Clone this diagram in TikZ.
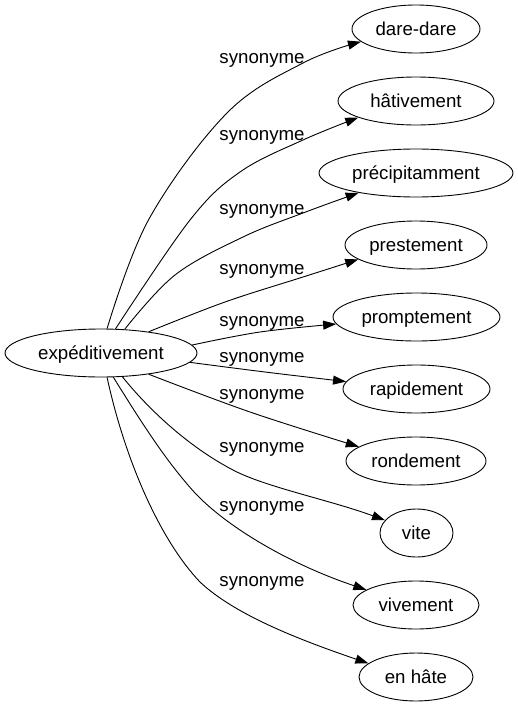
\documentclass[tikz,border=0pt]{standalone}
\usepackage{fontspec}
\setmainfont{Liberation Sans}
\usetikzlibrary{shapes.geometric,arrows.meta}
\tikzset{
  word/.style={ellipse, draw=black, line width=0.9pt, minimum height=48pt, inner sep=0pt,
    text height=13.5pt, text depth=1.5pt, font=\fontsize{18.67}{22}\selectfont},
  rel/.style={anchor=base, inner sep=0pt, font=\fontsize{18.67}{22}\selectfont},
  edge/.style={draw=black, line width=0.9pt, -{Triangle[length=13pt,width=9pt]}},
}
\begin{document}
\begin{tikzpicture}[x=1pt,y=-1pt]
\useasboundingbox (0,0) rectangle (518,707);
\node[word, minimum width=192pt] (e) at (101,353) {expéditivement};
\node[word, minimum width=128pt] (t1) at (416,29) {dare-dare};
\node[word, minimum width=156pt] (t2) at (416,101) {hâtivement};
\node[word, minimum width=194pt] (t3) at (416,173) {précipitamment};
\node[word, minimum width=142pt] (t4) at (416,245) {prestement};
\node[word, minimum width=167pt] (t5) at (416.5,317) {promptement};
\node[word, minimum width=147pt] (t6) at (416.5,389) {rapidement};
\node[word, minimum width=140pt] (t7) at (416,461) {rondement};
\node[word, minimum width=73pt] (t8) at (416.5,533) {vite};
\node[word, minimum width=126pt] (t9) at (416,605) {vivement};
\node[word, minimum width=114pt] (t10) at (416,677) {en hâte};

\node[rel] (l1) at (262,63) {synonyme};
\node[rel] (l2) at (262,140) {synonyme};
\node[rel] (l3) at (262,214) {synonyme};
\node[rel] (l4) at (262,274) {synonyme};
\node[rel] (l5) at (262,326) {synonyme};
\node[rel] (l6) at (262,362) {synonyme};
\node[rel] (l7) at (262,399) {synonyme};
\node[rel] (l8) at (262,452) {synonyme};
\node[rel] (l9) at (262,511) {synonyme};
\node[rel] (l10) at (262,586) {synonyme};

\draw[edge] plot[smooth, tension=0.6] coordinates {(e.76) (149,219) (227,113) (303,63) (t1.193.5)};
\draw[edge] plot[smooth, tension=0.6] coordinates {(e.59.5) (190,220) (240,172) (303,140) (t2.196)};
\draw[edge] plot[smooth, tension=0.6] coordinates {(e.45.4) (175,275) (243,237) (303,213) (t3.199.4)};
\draw[edge] plot[smooth, tension=0.6] coordinates {(e.24) (225,302) (303,277) (t4.194.7)};
\draw[edge] plot[smooth, tension=0.6] coordinates {(e.5.8) (260,332) (t5.185.7)};
\draw[edge] plot[smooth, tension=0.6] coordinates {(e.-6.65) (265,372) (t6.174.4)};
\draw[edge] plot[smooth, tension=0.6] coordinates {(e.-24.6) (250,412) (t7.166.2)};
\draw[edge] (e.-48.1) .. controls (145,405) and (185,445) .. (233,470)
  .. controls (265,487) and (330,500) .. (t8.158.8);
\draw[edge] (e.-63.2) .. controls (140,420) and (165,460) .. (195,493)
  .. controls (230,530) and (295,566) .. (t9.163.6);
\draw[edge] (e.-76) .. controls (125,460) and (160,540) .. (200,582)
  .. controls (235,615) and (300,640) .. (t10.164.6);
\end{tikzpicture}
\end{document}
